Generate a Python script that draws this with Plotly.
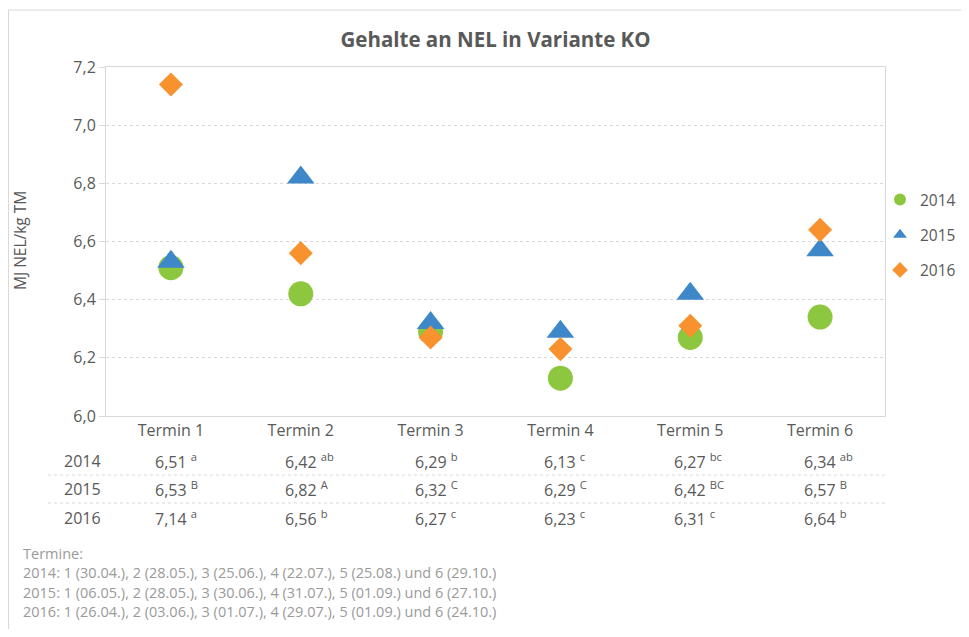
import plotly.graph_objects as go

termine = ["Termin 1", "Termin 2", "Termin 3", "Termin 4", "Termin 5", "Termin 6"]
years = ["2014", "2015", "2016"]

nel_2014 = [6.51, 6.42, 6.29, 6.13, 6.27, 6.34]
nel_2015 = [6.53, 6.82, 6.32, 6.29, 6.42, 6.57]
nel_2016 = [7.14, 6.56, 6.27, 6.23, 6.31, 6.64]

sig_2014 = ["a", "ab", "b", "c", "bc", "ab"]
sig_2015 = ["B", "A", "C", "C", "BC", "B"]
sig_2016 = ["a", "b", "c", "c", "c", "b"]

footnote_lines = [
    "Termine:",
    "2014: 1 (30.04.), 2 (28.05.), 3 (25.06.), 4 (22.07.), 5 (25.08.) und 6 (29.10.)",
    "2015: 1 (06.05.), 2 (28.05.), 3 (30.06.), 4 (31.07.), 5 (01.09.) und 6 (27.10.)",
    "2016: 1 (26.04.), 2 (03.06.), 3 (01.07.), 4 (29.07.), 5 (01.09.) und 6 (24.10.)",
]

y_min, y_max = 6.0, 7.2

FONT = "Open Sans"
TEXT = "#595959"
GRID = "#D9D9D9"

# the page body has an 8px margin on every side; keep the figure inside the window
OFF = 8
W, H = 969 - 2 * OFF, 637 - 2 * OFF
# plot area in window pixels (from the reference)
L, R, T, B = 106, 885, 67, 416


def px(x):
    return (x - L) / (R - L)


def py(y):
    return (B - y) / (B - T)


series = [
    ("2014", nel_2014, sig_2014, "circle", 25, "#8DC63F"),
    ("2015", nel_2015, sig_2015, "triangle-up", 24, "#3E87C8"),
    ("2016", nel_2016, sig_2016, "diamond", 18.5, "#F7922F"),
]

fig = go.Figure()
for name, vals, _, symbol, size, color in series:
    fig.add_trace(go.Scatter(
        x = termine,
        y = vals,
        mode = "markers",
        name = name,
        legendgroup = name,
        marker = dict(symbol = symbol, size = size, color = color, line_width = 0),
        cliponaxis = False,
    ))

annotations = []

# table below the axis
row_y = [461, 489, 518]
for (name, vals, sig, *_), ry in zip(series, row_y):
    annotations.append(dict(
        x = px(82), y = py(ry), xref = "paper", yref = "paper",
        text = name, showarrow = False, xanchor = "center", yanchor = "middle",
        font = dict(family = FONT, size = 16, color = TEXT),
    ))
    for cat, v, s in zip(termine, vals, sig):
        label = f"{v:.2f}".replace(".", ",")
        annotations.append(dict(
            x = cat, y = py(ry), xref = "x", yref = "paper",
            text = f"{label} <sup>{s}</sup>", showarrow = False,
            xanchor = "left", yanchor = "middle", xshift = -18,
            font = dict(family = FONT, size = 16, color = TEXT),
        ))

for i, line in enumerate(footnote_lines):
    annotations.append(dict(
        x = px(21), y = py(553 + i * 19.6), xref = "paper", yref = "paper",
        text = line, showarrow = False, xanchor = "left", yanchor = "middle",
        font = dict(family = FONT, size = 14.5, color = "#9A9A9A"),
    ))

annotations.append(dict(
    x = px(20), y = py(241), xref = "paper", yref = "paper",
    text = "MJ NEL/kg TM", textangle = -90, showarrow = False,
    xanchor = "center", yanchor = "middle",
    font = dict(family = FONT, size = 15.5, color = TEXT),
))

shapes = [
    # outer chart frame (top and left)
    dict(type = "line", xref = "paper", yref = "paper",
         x0 = px(OFF + 0.5), x1 = px(W + OFF), y0 = py(10), y1 = py(10),
         line = dict(color = GRID, width = 1)),
    dict(type = "line", xref = "paper", yref = "paper",
         x0 = px(OFF + 0.5), x1 = px(OFF + 0.5), y0 = py(10), y1 = py(H + OFF),
         line = dict(color = GRID, width = 1)),
]
for sy in [475, 503]:
    shapes.append(dict(
        type = "line", xref = "paper", yref = "paper",
        x0 = px(48), x1 = px(888), y0 = py(sy), y1 = py(sy),
        line = dict(color = GRID, width = 1, dash = "3px,3px"),
    ))

fig.update_layout(
    width = W,
    height = H,
    margin = dict(l = L - OFF, r = W + OFF - R, t = T - OFF, b = H + OFF - B,
                  pad = 0, autoexpand = False),
    paper_bgcolor = "white",
    plot_bgcolor = "white",
    separators = ", ",
    font = dict(family = FONT, color = TEXT),
    title = dict(
        text = "<b>Gehalte an NEL in Variante KO</b>",
        x = 0.5, xref = "paper", xanchor = "center",
        y = 1 - (40 - OFF) / H, yref = "container", yanchor = "middle",
        font = dict(family = FONT, size = 20.5, color = TEXT),
    ),
    legend = dict(
        x = 1, y = py(235), xref = "container", yref = "paper",
        xanchor = "right", yanchor = "middle",
        font = dict(family = FONT, size = 15.5, color = TEXT),
        itemsizing = "constant",
        tracegroupgap = 12,
        borderwidth = 0,
        bgcolor = "rgba(0,0,0,0)",
    ),
    annotations = annotations,
    shapes = shapes,
)

fig.update_xaxes(
    type = "category",
    range = [-0.5, 5.5],
    showgrid = False,
    showline = True,
    linecolor = GRID,
    mirror = True,
    ticks = "",
    tickfont = dict(family = FONT, size = 16, color = TEXT),
)

fig.update_yaxes(
    range = [y_min, y_max],
    dtick = 0.2,
    tickformat = ".1f",
    showgrid = True,
    gridcolor = GRID,
    griddash = "3px,3px",
    gridwidth = 1,
    zeroline = False,
    showline = True,
    linecolor = GRID,
    mirror = True,
    ticks = "outside",
    ticklen = 6,
    tickcolor = GRID,
    tickfont = dict(family = FONT, size = 16, color = TEXT),
)

fig.write_html("out.html")
